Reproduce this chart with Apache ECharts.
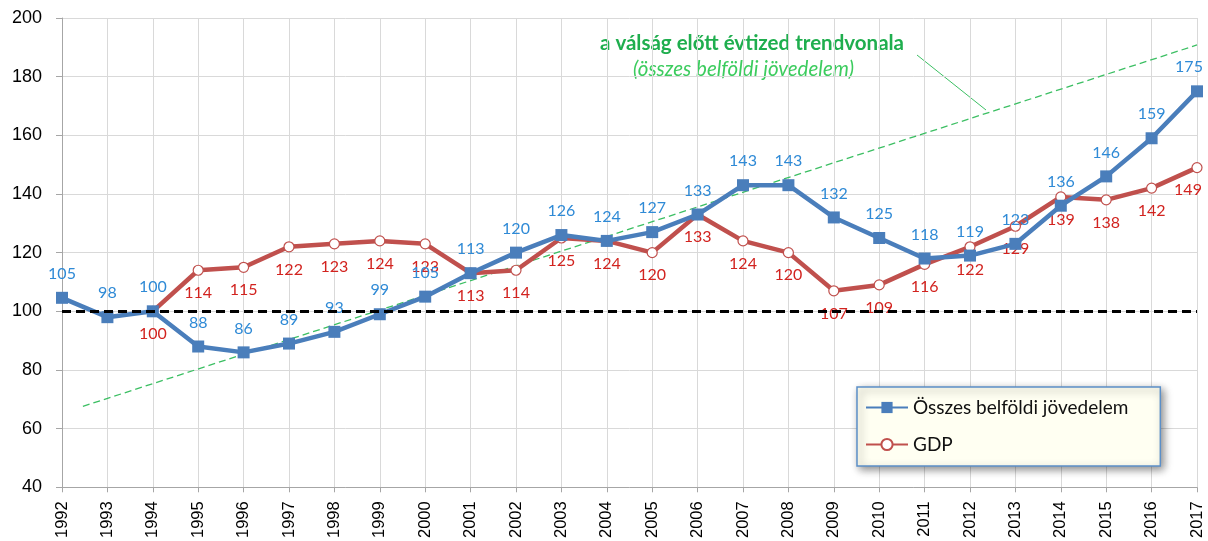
<!DOCTYPE html>
<html>
<head>
<meta charset="utf-8">
<script src="https://cdn.jsdelivr.net/npm/echarts@6/dist/echarts.min.js"></script>
<style>
  html, body { margin: 0; padding: 0; background: #fff; }
  #chart { width: 1208px; height: 541px; }
</style>
</head>
<body>
<div id="chart"></div>
<script>
// évek
const years = ['1992','1993','1994','1995','1996','1997','1998','1999','2000','2001','2002','2003','2004',
  '2005','2006','2007','2008','2009','2010','2011','2012','2013','2014','2015','2016','2017'];
// összes belföldi jövedelem (1994 = 100)
const income = [104.6, 98, 100, 88, 86, 89, 93, 99, 105, 113, 120, 126, 124, 127, 133, 143, 143, 132, 125, 118, 119, 123, 136, 146, 159, 175];
// GDP (1994 = 100)
const gdp = [null, null, 100, 114, 115, 122, 123, 124, 123, 113, 114, 125, 124, 120, 133, 124, 120, 107, 109, 116, 122, 129, 139, 138, 142, 149];
// trendvonal végpontjai [év index, érték]
const trendX = [0.46, 25];
const trendY = [67.6, 190.8];

const chart = echarts.init(document.getElementById('chart'));

const labelFont = 'Lato, "Open Sans", sans-serif';

// az utolsó címkét kicsit balra toljuk, hogy ne lógjon ki
function withLastShift(arr, dx) {
  return arr.map((v, i) => i === arr.length - 1 ? { value: v, label: { offset: [dx, 0] } } : v);
}

chart.setOption({
  animation: false,
  grid: { left: 62, right: 11, top: 18, bottom: 53 },
  xAxis: [
    {
      type: 'category',
      data: years,
      boundaryGap: false,
      axisLine: { lineStyle: { color: '#a6a6a6' } },
      axisTick: { alignWithLabel: true, length: 5, lineStyle: { color: '#a6a6a6' } },
      axisLabel: { rotate: 90, color: '#000', fontSize: 16.5, fontFamily: '"Liberation Sans", Arial', margin: 14 },
      splitLine: { show: true, lineStyle: { color: '#d9d9d9' } }
    },
    { type: 'value', min: 0, max: 25, show: false }
  ],
  yAxis: {
    type: 'value',
    min: 40, max: 200, interval: 20,
    axisLine: { show: true, lineStyle: { color: '#a6a6a6' } },
    axisTick: { show: true, length: 6, lineStyle: { color: '#a6a6a6' } },
    axisLabel: { color: '#000', fontSize: 18, fontFamily: '"Liberation Sans", Arial', margin: 20 },
    splitLine: { lineStyle: { color: '#d9d9d9' } }
  },
  legend: {
    orient: 'vertical',
    left: 857, top: 387,
    padding: [11, 32, 12, 8],
    itemGap: 18,
    itemWidth: 42, itemHeight: 14,
    backgroundColor: '#fffff2',
    borderColor: '#5b8fc8', borderWidth: 1.5,
    shadowBlur: 8, shadowColor: 'rgba(0,0,0,0.45)', shadowOffsetX: 3, shadowOffsetY: 3,
    textStyle: { fontSize: 19, color: '#111', fontFamily: labelFont },
    data: ['Összes belföldi jövedelem', 'GDP']
  },
  series: [
    {
      name: 'trend',
      type: 'line',
      xAxisIndex: 1,
      data: [[trendX[0], trendY[0]], [trendX[1], trendY[1]]],
      symbol: 'none',
      silent: true,
      lineStyle: { color: '#3cbf63', width: 1.3, type: [7, 4] },
      z: 1
    },
    {
      name: 'GDP',
      type: 'line',
      data: withLastShift(gdp, -9),
      symbol: 'circle',
      symbolSize: 10,
      itemStyle: { color: '#fff', borderColor: '#c0504d', borderWidth: 1.2 },
      lineStyle: { color: '#c0504d', width: 4.5 },
      label: {
        show: true, position: 'bottom', distance: 9,
        color: '#d2231f', fontSize: 16, fontFamily: labelFont,
        formatter: p => Math.round(p.value)
      },
      markLine: {
        silent: true,
        symbol: 'none',
        label: { show: false },
        lineStyle: { color: '#000', width: 3, type: [9, 5] },
        data: [{ yAxis: 100 }]
      },
      z: 3
    },
    {
      name: 'Összes belföldi jövedelem',
      type: 'line',
      data: withLastShift(income, -8),
      symbol: 'rect',
      symbolSize: 12,
      itemStyle: { color: '#4a7ebb' },
      lineStyle: { color: '#4a7ebb', width: 4.5 },
      label: {
        show: true, position: 'top', distance: 10,
        color: '#2f8ad6', fontSize: 16, fontFamily: labelFont,
        formatter: p => Math.round(p.value)
      },
      z: 4
    }
  ],
  graphic: [
    {
      type: 'text', left: 600, top: 33,
      style: { text: 'a válság előtt évtized trendvonala', fill: '#1fae4e', font: 'bold 20.5px Lato, "Open Sans", sans-serif' }
    },
    {
      type: 'text', left: 633, top: 59,
      style: { text: '(összes belföldi jövedelem)', fill: '#3ccc5e', font: 'italic 20.5px Lato, "Open Sans", sans-serif' }
    },
    {
      type: 'line',
      shape: { x1: 917, y1: 55, x2: 986, y2: 110 },
      style: { stroke: '#3cbf63', lineWidth: 1 }
    }
  ]
});
</script>
</body>
</html>
